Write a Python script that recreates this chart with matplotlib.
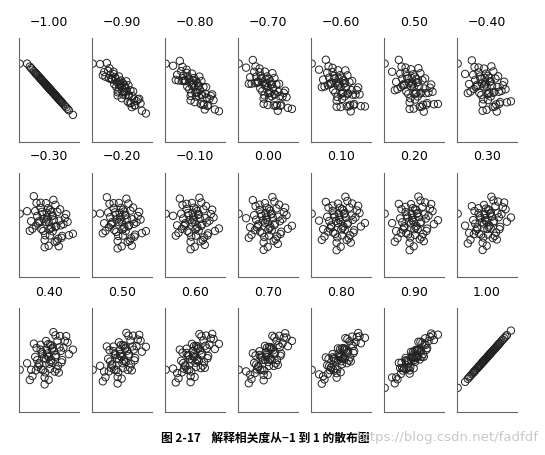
import matplotlib
matplotlib.use("Agg")
import matplotlib.pyplot as plt
import numpy as np

plt.rcParams['font.family'] = ['Noto Sans CJK SC', 'DejaVu Sans']

correlations = [-1.00, -0.90, -0.80, -0.70, -0.60, -0.50, -0.40,
                -0.30, -0.20, -0.10, 0.00, 0.10, 0.20, 0.30,
                0.40, 0.50, 0.60, 0.70, 0.80, 0.90, 1.00]
titles = ["\u22121.00", "\u22120.90", "\u22120.80", "\u22120.70", "\u22120.60", "0.50", "\u22120.40",
          "\u22120.30", "\u22120.20", "\u22120.10", "0.00", "0.10", "0.20", "0.30",
          "0.40", "0.50", "0.60", "0.70", "0.80", "0.90", "1.00"]

# hand-estimated standardized point cloud (x, noise)
base_x = [-1.6, -1.2, -0.9, -0.7, -0.5, -0.3, -0.1, 0.1, 0.3, 0.5, 0.7, 0.9, 1.2, 1.5,
          -1.4, -1.0, -0.8, -0.6, -0.4, -0.2, 0.0, 0.2, 0.4, 0.6, 0.8, 1.0, 1.3, 1.8,
          -1.1, -0.7, -0.45, -0.25, -0.05, 0.15, 0.35, 0.55, 0.75, 1.1, -0.35, 0.05,
          -0.55, 0.25, 0.45, -0.15, 0.65, -0.85, 0.95, 1.4, -1.3, 0.0, 0.2, -0.2,
          0.5, -0.6, 0.85, -0.95, 0.1, -0.1, 0.3, -0.3]
base_z = [0.3, -0.8, 1.1, -0.2, 0.6, -1.3, 0.2, 0.9, -0.5, 1.4, -0.9, 0.1, 0.7, -0.4,
          -1.0, 0.5, -0.3, 1.2, -0.7, 0.0, -1.6, 0.8, 0.3, -1.1, 0.4, -0.6, 1.0, -0.2,
          1.5, -0.1, 0.45, -0.95, 1.0, -0.35, 1.7, -0.05, -1.4, 0.25, 0.15, -0.45,
          -0.6, 0.55, -1.2, 0.65, 0.95, 0.2, -0.75, 0.5, -0.3, 0.05, -0.25, 1.3,
          -0.15, 0.85, 1.2, -0.5, -0.85, 0.35, 0.6, -1.8]
outlier_x = -2.15
outlier_y = 1.6

x = np.array(base_x)
z = np.array(base_z)

fig = plt.figure(figsize=(5.45, 4.55), dpi=100)
fig.patch.set_facecolor('white')
lefts = [19, 92, 165, 238, 311, 384, 457]
tops = [38, 173, 308]
w, h = 60, 104
W, H = 545, 455
for i, (r, t) in enumerate(zip(correlations, titles)):
    row, col = divmod(i, 7)
    ax = fig.add_axes([lefts[col] / W, 1 - (tops[row] + h) / H, w / W, h / H])
    y = r * x + np.sqrt(max(0.0, 1 - r * r)) * z
    xs = np.append(x, outlier_x)
    ys = np.append(y, outlier_y if r <= -0.4 else 0.6 if r <= 0.3 else -0.8 if r < 0.9 else -2.0)
    ax.scatter(xs, ys, s=28, facecolors='none', edgecolors='#222222', linewidths=0.7)
    ax.set_xlim(-2.2, 2.25)
    ax.set_ylim(-3.6, 3.3)
    ax.set_xticks([]); ax.set_yticks([])
    for s in ['top', 'right']:
        ax.spines[s].set_visible(False)
    ax.spines['left'].set_color('#666666')
    ax.spines['bottom'].set_color('#666666')
    ax.set_title(t, fontsize=9, family=['DejaVu Sans'], pad=9)

fig.text(0.295, 0.03, "图 2-17    解释相关度从\u22121 到 1 的散布图", fontsize=8.5, weight='bold',
         family=['Noto Sans CJK SC', 'DejaVu Sans'])
fig.text(0.655, 0.03, "https://blog.csdn.net/fadfdf", fontsize=9.5, color='#c8c8c8',
         family=['DejaVu Sans'])
fig.savefig("out.png", dpi=100)
